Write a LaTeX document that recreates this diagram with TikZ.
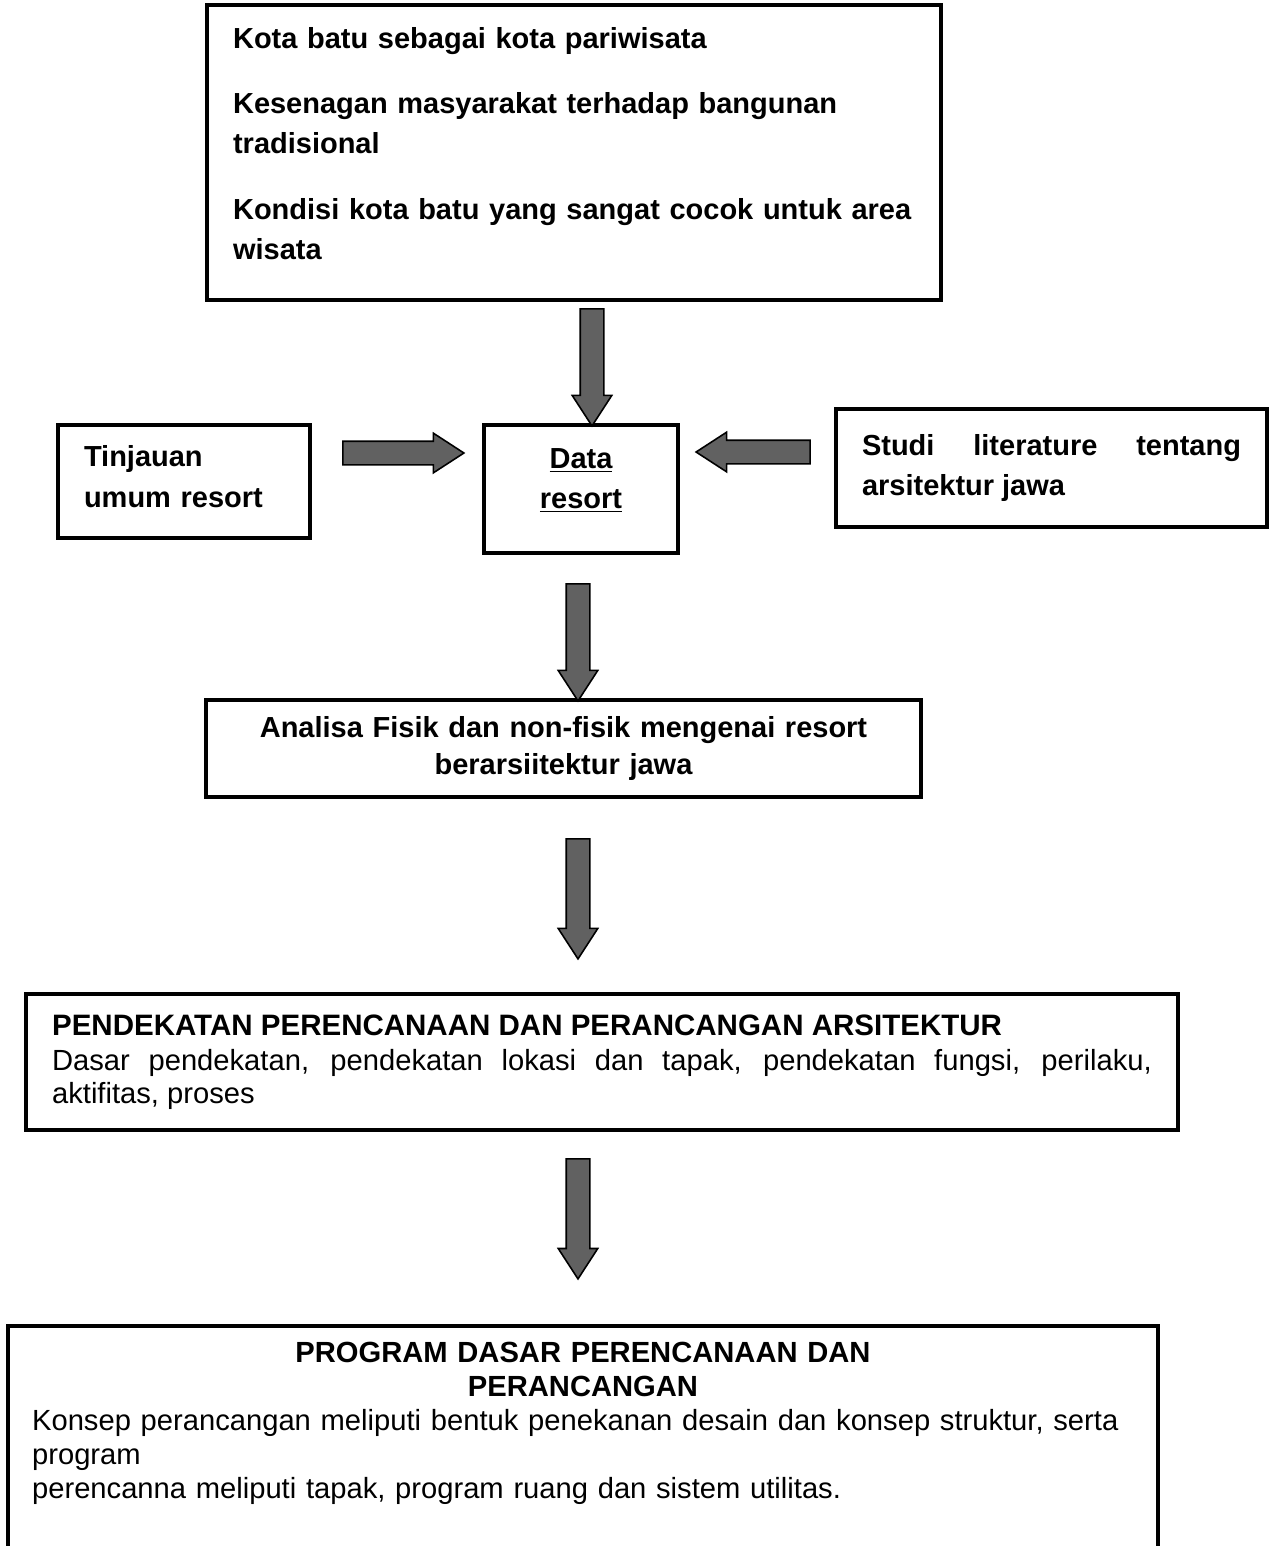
\documentclass[tikz,border=0pt]{standalone}
\usepackage{fontspec}
\setmainfont{Liberation Sans}
\usetikzlibrary{positioning,shapes.arrows,calc}
\hyphenpenalty=10000
\exhyphenpenalty=10000

\begin{document}
\begin{tikzpicture}[x=0.02cm, y=-0.02cm,
  box/.style={rectangle, draw, line width=2.4pt, inner xsep=0.52cm, inner ysep=0pt, font=\fontsize{16.6}{22.8}\selectfont},
  boldbox/.style={box, font=\fontsize{16.5}{22.8}\selectfont\bfseries},
  fat arrow/.style={single arrow, draw, line width=0.9pt, fill=black!62, inner xsep=0pt, inner ysep=0.22cm, outer sep=0pt, minimum height=#1, single arrow head extend=0.16cm, single arrow tip angle=66, single arrow head indent=0pt, sloped, allow upside down, pos=1, anchor=tip}]
\useasboundingbox (0,0) rectangle (1272,1546);
% boxes
\node[boldbox, text width=13.64cm, minimum height=5.9cm, align=left] (latar) at (574,152.5) {Kota batu sebagai kota pariwisata\\[0.5cm] Kesenagan masyarakat terhadap bangunan\\ tradisional\\[0.5cm] Kondisi kota batu yang sangat cocok untuk area\\ wisata\\[-0.44cm]\mbox{}};
\node[boldbox, text width=4cm, minimum height=2.26cm, align=left] (tinjauan) at (184,481.5) {Tinjauan\\ umum resort\\[-0.6cm]\mbox{}};
\node[boldbox, text width=2.84cm, minimum height=2.56cm, align=center] (data) at (581,489) {\underline{Data}\\ \underline{resort}\\[-0.4cm]\mbox{}};
\node[boldbox, text width=7.58cm, minimum height=2.36cm, align=justify] (studi) at (1051.5,468) {Studi literature tentang arsitektur jawa};
\node[boldbox, font=\fontsize{16.5}{21}\selectfont\bfseries, text width=13.26cm, minimum height=1.94cm, align=center] (analisa) at (563.5,748.5) {Analisa Fisik dan non-fisik mengenai resort\\ berarsiitektur jawa};
\node[box, font=\fontsize{16.6}{18.8}\selectfont, text width=22cm, minimum height=2.72cm, align=justify] (pendekatan) at (602,1062) {{\fontsize{16.8}{18.8}\selectfont\bfseries PENDEKATAN PERENCANAAN DAN PERANCANGAN ARSITEKTUR}\\[1pt] Dasar pendekatan, pendekatan lokasi dan tapak, pendekatan fungsi, perilaku, aktifitas, proses};
\node[box, font=\fontsize{16.6}{19.3}\selectfont, inner xsep=0.48cm, text width=22.04cm, minimum height=4.44cm, align=left] (program) at (583,1437) {\makebox[22.04cm]{\textbf{PROGRAM DASAR PERENCANAAN DAN}}\\ \makebox[22.04cm]{\textbf{PERANCANGAN}}\\ Konsep perancangan meliputi bentuk penekanan desain dan konsep struktur, serta\\ program\\ perencanna meliputi tapak, program ruang dan sistem utilitas.\\ \mbox{}};
% arrow ends
\coordinate (a1s) at ($(latar.south)+(18,8)$);
\coordinate (a1e) at ($(data.north)+(11,3)$);
\coordinate (a2s) at ($(tinjauan.east)+(32,-28.5)$);
\coordinate (a2e) at ($(data.west)+(-18,-36)$);
\coordinate (a3s) at ($(studi.west)+(-25,-16)$);
\coordinate (a3e) at ($(data.east)+(16,-37)$);
\coordinate (a4s) at ($(data.south)+(-3,30)$);
\coordinate (a4e) at ($(analisa.north)+(14.5,3)$);
\coordinate (a5s) at ($(analisa.south)+(14.5,41)$);
\coordinate (a5e) at ($(pendekatan.north)+(-24,-33)$);
\coordinate (a6s) at ($(pendekatan.south)+(-24,28)$);
\coordinate (a6e) at ($(program.north)+(-5,-45)$);
% arrows
\path (a1s) -- node[fat arrow=2.34cm] {} (a1e);
\path (a2s) -- node[fat arrow=2.42cm] {} (a2e);
\path (a3s) -- node[fat arrow=2.28cm] {} (a3e);
\path (a4s) -- node[fat arrow=2.34cm] {} (a4e);
\path (a5s) -- node[fat arrow=2.4cm] {} (a5e);
\path (a6s) -- node[fat arrow=2.4cm] {} (a6e);
\end{tikzpicture}
\end{document}
